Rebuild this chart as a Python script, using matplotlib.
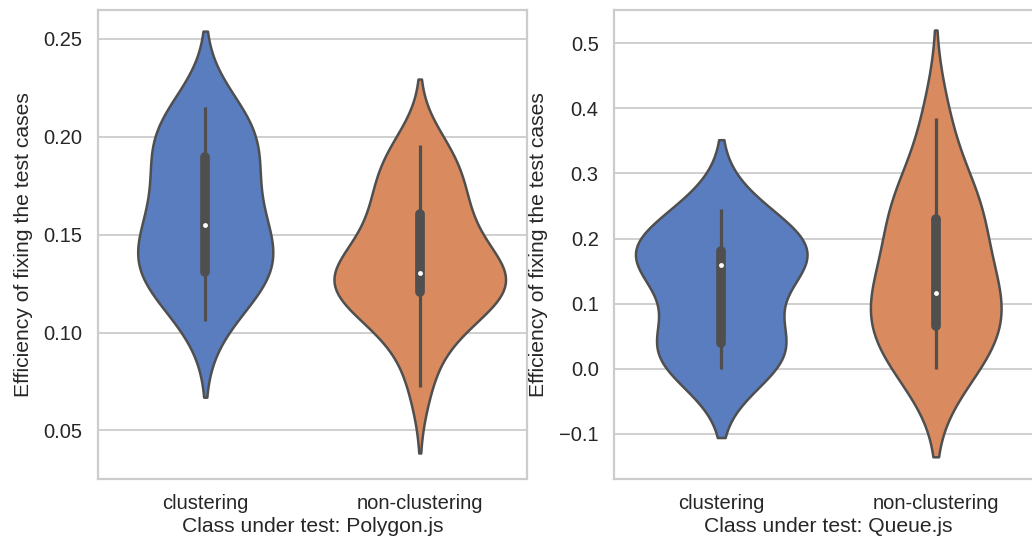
import numpy as np
import matplotlib
matplotlib.use("Agg")
import matplotlib.pyplot as plt
import seaborn as sns
from matplotlib import cbook

# ---------------- data ----------------
categories = ["clustering", "non-clustering"]

polygon_clustering = [0.106, 0.123, 0.127, 0.129, 0.1317, 0.142, 0.148, 0.151,
                      0.159, 0.170, 0.179, 0.188, 0.1945, 0.202, 0.209, 0.215]
polygon_nonclustering = [0.072, 0.093, 0.103, 0.109, 0.114, 0.118, 0.1215, 0.123,
                         0.125, 0.127, 0.128, 0.129, 0.1314, 0.136, 0.142, 0.148,
                         0.154, 0.159, 0.1645, 0.171, 0.178, 0.185, 0.191, 0.196]
queue_clustering = [0.0, 0.015, 0.030, 0.0496, 0.105, 0.160, 0.166, 0.174,
                    0.189, 0.205, 0.246]
queue_nonclustering = [0.0, 0.012, 0.030, 0.055, 0.100, 0.104, 0.110, 0.122,
                       0.180, 0.215, 0.236, 0.260, 0.290, 0.385]

x_labels = ["Class under test: Polygon.js", "Class under test: Queue.js"]
y_label = "Efficiency of fixing the test cases"
polygon_yticks = [0.05, 0.10, 0.15, 0.20, 0.25]
queue_yticks = [-0.1, 0.0, 0.1, 0.2, 0.3, 0.4, 0.5]

# ---------------- style ----------------
sns.set_theme(style="whitegrid")
plt.rcParams["font.family"] = ["Liberation Sans", "DejaVu Sans"]
plt.rcParams["axes.edgecolor"] = "#cccccc"
plt.rcParams["grid.color"] = "#cccccc"

LINE_GRAY = "#4f4f4f"
TEXT = "#262626"

fig = plt.figure(figsize=(10.32, 5.47), dpi=100)
W, H = 1032.0, 547.0
ax1 = fig.add_axes([98 / W, 1 - 479 / H, 429 / W, 469 / H])
ax2 = fig.add_axes([614 / W, 1 - 479 / H, 429 / W, 469 / H])

minor_ver = int(sns.__version__.split(".")[1])


def draw(ax, groups, xlabel, yticks, ylim):
    xs, ys = [], []
    for cat, vals in zip(categories, groups):
        xs += [cat] * len(vals)
        ys += list(vals)
    if minor_ver >= 13:
        sns.violinplot(x=xs, y=ys, hue=xs, order=categories, hue_order=categories,
                       palette="muted", legend=False, inner=None, ax=ax,
                       saturation=0.75, common_norm=True, density_norm="area")
    else:
        sns.violinplot(x=xs, y=ys, order=categories, palette="muted",
                       inner=None, ax=ax, saturation=0.75, scale="area")
    for coll in ax.collections:
        coll.set_edgecolor(LINE_GRAY)
        coll.set_linewidth(1.8)
    for i, vals in enumerate(groups):
        st = cbook.boxplot_stats(np.asarray(vals, dtype=float))[0]
        ax.plot([i, i], [st["whislo"], st["whishi"]], color=LINE_GRAY, lw=2.3,
                solid_capstyle="butt", zorder=3)
        ax.plot([i, i], [st["q1"], st["q3"]], color=LINE_GRAY, lw=7,
                solid_capstyle="round", zorder=4)
        ax.plot([i], [st["med"]], marker="o", color="white", markersize=3.5,
                markeredgewidth=0, zorder=5)

    ax.set_xlim(-0.5, 1.5)
    ax.set_ylim(*ylim)
    ax.set_yticks(yticks)
    ax.set_xticks([0, 1])
    ax.set_xticklabels(categories)
    ax.xaxis.grid(False)
    ax.yaxis.grid(True, color="#cccccc", lw=1.3)
    ax.set_axisbelow(True)
    for sp in ax.spines.values():
        sp.set_color("#cccccc")
        sp.set_linewidth(1.6)
    ax.tick_params(axis="both", length=0, labelsize=14.5, labelcolor=TEXT)
    ax.tick_params(axis="y", pad=11)
    ax.tick_params(axis="x", pad=11)
    ax.set_xlabel(xlabel, fontsize=15.2, color=TEXT, labelpad=3)
    ax.set_ylabel(y_label, fontsize=15.2, color=TEXT, labelpad=8)


draw(ax1, [polygon_clustering, polygon_nonclustering], x_labels[0],
     polygon_yticks, (0.0252, 0.2648))
draw(ax2, [queue_clustering, queue_nonclustering], x_labels[1],
     queue_yticks, (-0.1696, 0.5512))

fig.savefig("out.png", dpi=100)
